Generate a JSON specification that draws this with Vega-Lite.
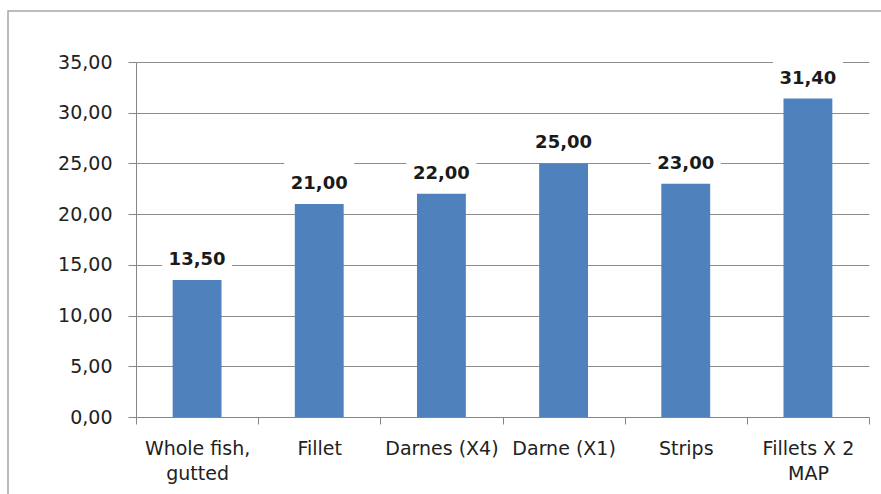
{
  "$schema": "https://vega.github.io/schema/vega-lite/v6.json",
  "width": 873,
  "height": 483,
  "autosize": {"type": "none"},
  "padding": {"left": 8, "top": 11, "right": 0, "bottom": 0},
  "background": "white",
  "config": {
    "locale": {"number": {"decimal": ",", "thousands": ".", "grouping": [3], "currency": ["", " €"]}},
    "view": {"stroke": "#a6a6a6", "strokeWidth": 1.5, "strokeDash": [873, 1356, 483]},
    "font": "DejaVu Sans"
  },
  "data": {
    "values": [
      {"product": "Whole fish, gutted", "price": 13.5},
      {"product": "Fillet", "price": 21.0},
      {"product": "Darnes (X4)", "price": 22.0},
      {"product": "Darne (X1)", "price": 25.0},
      {"product": "Strips", "price": 23.0},
      {"product": "Fillets X 2 MAP", "price": 31.4}
    ]
  },
  "encoding": {
    "x": {
      "field": "product",
      "type": "nominal",
      "sort": null,
      "scale": {"range": [128, 861], "paddingInner": 0, "paddingOuter": 0},
      "axis": {
        "orient": "bottom",
        "offset": -77,
        "title": null,
        "grid": false,
        "tickBand": "extent",
        "tickSize": 7,
        "tickColor": "#868686",
        "domainColor": "#868686",
        "labelAngle": 0,
        "labelFont": "DejaVu Sans",
        "labelFontSize": 19,
        "labelColor": "#222222",
        "labelPadding": 15,
        "labelLineHeight": 25,
        "labelOverlap": false,
        "labelLimit": 0,
        "labelBound": false,
        "labelExpr": "datum.value == 'Whole fish, gutted' ? ['Whole fish,', 'gutted'] : datum.value == 'Fillets X 2 MAP' ? ['Fillets X 2', 'MAP'] : datum.label"
      }
    },
    "y": {
      "field": "price",
      "type": "quantitative",
      "scale": {"domain": [0, 35], "range": [406, 51], "nice": false, "zero": true},
      "axis": {
        "orient": "left",
        "offset": -128,
        "title": null,
        "values": [0, 5, 10, 15, 20, 25, 30, 35],
        "format": ".2f",
        "grid": true,
        "gridColor": "#8c8c8c",
        "gridWidth": 1,
        "domainColor": "#868686",
        "tickColor": "#868686",
        "tickSize": 8,
        "labelFont": "DejaVu Sans",
        "labelFontSize": 19,
        "labelColor": "#222222",
        "labelPadding": 16
      }
    }
  },
  "layer": [
    {
      "mark": {"type": "bar", "color": "#4f81bd", "width": {"band": 0.4}}
    },
    {
      "mark": {
        "type": "point",
        "shape": "M-1,-0.6H1V0.6H-1Z",
        "size": 4900,
        "filled": true,
        "color": "white",
        "opacity": 1,
        "strokeWidth": 0,
        "yOffset": -22
      }
    },
    {
      "mark": {
        "type": "text",
        "fontSize": 18,
        "fontWeight": "bold",
        "font": "DejaVu Sans",
        "color": "#1a1a1a",
        "baseline": "middle",
        "align": "center",
        "dy": -20
      },
      "encoding": {
        "text": {"field": "price", "type": "quantitative", "format": ".2f"}
      }
    }
  ]
}
